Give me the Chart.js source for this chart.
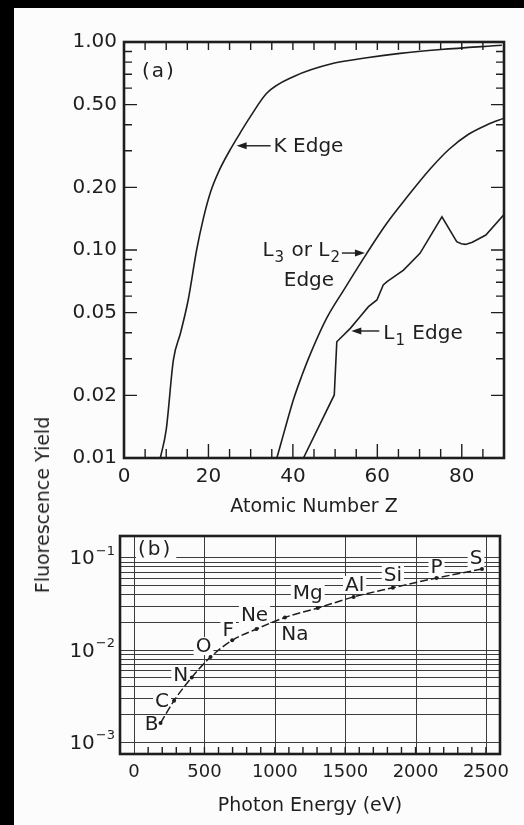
<!DOCTYPE html>
<html>
<head>
<meta charset="utf-8">
<script src="https://cdn.jsdelivr.net/npm/chart.js@4.4.1/dist/chart.umd.min.js"></script>
<style>
  html, body { margin: 0; padding: 0; background: #000; width: 524px; height: 825px; overflow: hidden; }
  #paper { position: absolute; left: 14px; top: 8px; width: 510px; height: 817px; background: #fcfcfc; }
  canvas { position: absolute; left: 0; }
  #ytitle {
    position: absolute; left: 42px; top: 505px;
    transform: translate(-50%, -50%) rotate(-90deg);
    font: 19px "DejaVu Sans", Arial, sans-serif; color: #1e1e1e; white-space: nowrap;
  }
</style>
</head>
<body>
<div id="paper"></div>
<canvas id="chartA" width="524" height="525" style="top:0"></canvas>
<canvas id="chartB" width="524" height="305" style="top:520px"></canvas>
<div id="ytitle">Fluorescence Yield</div>
<script>
// panel (a): yield vs atomic number
var zTicks = [0, 20, 40, 60, 80];
var yieldTicksA = [0.01, 0.02, 0.05, 0.10, 0.20, 0.50, 1.00];
var minorYA = [0.01, 0.02, 0.03, 0.04, 0.05, 0.06, 0.07, 0.08, 0.09,
               0.1, 0.2, 0.3, 0.4, 0.5, 0.6, 0.7, 0.8, 0.9, 1.0];

var kZ     = [8.6, 10, 11.7, 13.4, 15.2, 17.2, 18.8, 20.5, 22.5, 25, 27.5, 30, 33.8, 40.1, 49.6, 57.5, 65.4, 75, 89.5];
var kYield = [0.010, 0.0137, 0.0296, 0.040, 0.0575, 0.100, 0.142, 0.190, 0.240, 0.300, 0.365, 0.440, 0.567, 0.681, 0.790, 0.840, 0.882, 0.920, 0.965];

var l3Z     = [36.2, 38, 40.1, 42, 44.1, 48, 52, 57.5, 62.2, 66.5, 72.5, 77, 81.6, 86, 90];
var l3Yield = [0.010, 0.0135, 0.019, 0.0245, 0.0315, 0.047, 0.064, 0.0964, 0.134, 0.174, 0.245, 0.305, 0.360, 0.400, 0.430];

var l1Z     = [42.5, 49.8, 50.4, 53.6, 55.9, 57.9, 59.9, 61.4, 62.3, 66.2, 70.1, 75.3, 78.8, 79.9, 80.9, 82.5, 85.7, 90];
var l1Yield = [0.010, 0.0201, 0.0362, 0.042, 0.0478, 0.0534, 0.0575, 0.0679, 0.0704, 0.0801, 0.0964, 0.1445, 0.1096, 0.1072, 0.1064, 0.109, 0.118, 0.148];

// panel (b): K yield of light elements vs photon energy
var elements     = ['B', 'C', 'N', 'O', 'F', 'Ne', 'Na', 'Mg', 'Al', 'Si', 'P', 'S'];
var edgeEnergy   = [188, 284, 410, 543, 697, 870, 1072, 1305, 1560, 1839, 2149, 2472];
var kYieldLight  = [0.0016, 0.0028, 0.0050, 0.0083, 0.0126, 0.0167, 0.0223, 0.0282, 0.0372, 0.0468, 0.0596, 0.0746];
var energyTicks  = [0, 500, 1000, 1500, 2000, 2500];
var decadeTicks  = [0.001, 0.01, 0.1];
var decadeExp    = ['\u22123', '\u22122', '\u22121'];
var minorYB = [0.001, 0.002, 0.003, 0.004, 0.005, 0.006, 0.007, 0.008, 0.009,
               0.01, 0.02, 0.03, 0.04, 0.05, 0.06, 0.07, 0.08, 0.09, 0.1];

// label placement (pixel offsets from each point)
var labelOffsets = [[-9, 1], [-12, 0], [-11, -3], [-7, -11], [-4, -11], [-2, -14],
                    [10, 16], [-10, -15], [1, -12], [0, -13], [0, -11], [-6, -11]];

var INK = '#1e1e1e';
var PAPER = '#fcfcfc';
var FONT = '"DejaVu Sans", "Liberation Sans", Arial, sans-serif';

function pts(xs, ys) {
    return xs.map(function (v, i) { return { x: v, y: ys[i] }; });
}

function arrow(ctx, x1, y1, x2, y2) {
    // tip at (x2, y2)
    var dir = Math.sign(x2 - x1);
    ctx.beginPath();
    ctx.moveTo(x1, y1);
    ctx.lineTo(x2 - dir * 6, y2);
    ctx.stroke();
    ctx.beginPath();
    ctx.moveTo(x2, y2);
    ctx.lineTo(x2 - dir * 10, y2 - 3.5);
    ctx.lineTo(x2 - dir * 10, y2 + 3.5);
    ctx.closePath();
    ctx.fill();
}

// draws text with subscripts, parts = [[text, isSub], ...]
function richText(ctx, parts, x, y, align) {
    var big = '20px ' + FONT, small = '15px ' + FONT;
    var total = 0;
    parts.forEach(function (p) {
        ctx.font = p[1] ? small : big;
        total += ctx.measureText(p[0]).width + (p[1] ? 2 : 0);
    });
    var cx = align === 'right' ? x - total : x;
    ctx.textAlign = 'left';
    ctx.textBaseline = 'middle';
    parts.forEach(function (p) {
        ctx.font = p[1] ? small : big;
        ctx.fillText(p[0], cx + (p[1] ? 1 : 0), p[1] ? y + 7 : y);
        cx += ctx.measureText(p[0]).width + (p[1] ? 2 : 0);
    });
}

var frameA = {
    id: 'frameA',
    afterDraw: function (chart) {
        var ctx = chart.ctx, a = chart.chartArea;
        var x = chart.scales.x, y = chart.scales.y;
        ctx.save();
        ctx.strokeStyle = INK;
        ctx.fillStyle = INK;
        ctx.lineWidth = 1.4;
        ctx.beginPath();
        minorYA.forEach(function (v) {
            var py = y.getPixelForValue(v);
            var len = yieldTicksA.indexOf(v) >= 0 ? 13 : 8;
            ctx.moveTo(a.left, py); ctx.lineTo(a.left + len, py);
            ctx.moveTo(a.right, py); ctx.lineTo(a.right - len, py);
        });
        for (var z = 5; z < 90; z += 5) {
            var px = x.getPixelForValue(z);
            ctx.moveTo(px, a.top); ctx.lineTo(px, a.top + 8);
            ctx.moveTo(px, a.bottom); ctx.lineTo(px, a.bottom - (z % 20 === 0 ? 14 : 9));
        }
        ctx.stroke();
        ctx.lineWidth = 2.6;
        ctx.strokeRect(a.left, a.top, a.right - a.left, a.bottom - a.top);

        // panel tag
        ctx.font = '20px ' + FONT;
        ctx.textAlign = 'left';
        ctx.textBaseline = 'middle';
        ctx.letterSpacing = '2px';
        ctx.fillText('(a)', a.left + 18, a.top + 30);
        ctx.letterSpacing = '0px';

        // K edge
        ctx.lineWidth = 1.4;
        var kx = x.getPixelForValue(26.2), ky = y.getPixelForValue(0.317);
        arrow(ctx, kx + 36, ky, kx + 2, ky);
        ctx.font = '20px ' + FONT;
        ctx.fillText('K Edge', kx + 39, ky + 1);

        // L3 / L2 edge
        var lx = x.getPixelForValue(57.3), ly = y.getPixelForValue(0.0967);
        arrow(ctx, lx - 24, ly, lx - 1, ly);
        richText(ctx, [['L', false], ['3', true], [' or L', false], ['2', true]], lx - 25, ly - 2, 'right');
        ctx.font = '20px ' + FONT;
        ctx.textAlign = 'center';
        ctx.fillText('Edge', lx - 57, ly + 28);

        // L1 edge
        var mx = x.getPixelForValue(53.6), my = y.getPixelForValue(0.0408);
        arrow(ctx, mx + 29, my, mx + 1, my);
        richText(ctx, [['L', false], ['1', true], [' Edge', false]], mx + 33, my + 3, 'left');
        ctx.restore();
    }
};

var gridB = {
    id: 'gridB',
    beforeDatasetsDraw: function (chart) {
        var ctx = chart.ctx, a = chart.chartArea;
        var x = chart.scales.x, y = chart.scales.y;
        ctx.save();
        ctx.strokeStyle = '#3c3c3c';
        ctx.lineWidth = 1;
        ctx.beginPath();
        minorYB.forEach(function (v) {
            var py = Math.round(y.getPixelForValue(v)) + 0.5;
            ctx.moveTo(a.left, py); ctx.lineTo(a.right, py);
        });
        energyTicks.forEach(function (e) {
            var px = Math.round(x.getPixelForValue(e)) + 0.5;
            ctx.moveTo(px, a.top); ctx.lineTo(px, a.bottom);
        });
        ctx.stroke();
        ctx.strokeStyle = INK;
        ctx.lineWidth = 1.4;
        ctx.beginPath();
        for (var e = 100; e < 2600; e += 100) {
            var px = x.getPixelForValue(e);
            ctx.moveTo(px, a.bottom); ctx.lineTo(px, a.bottom - 7);
        }
        ctx.stroke();

        // element labels on a paper-coloured patch
        ctx.font = '20px ' + FONT;
        ctx.textAlign = 'center';
        ctx.textBaseline = 'middle';
        elements.forEach(function (el, i) {
            var px = x.getPixelForValue(edgeEnergy[i]) + labelOffsets[i][0];
            var py = y.getPixelForValue(kYieldLight[i]) + labelOffsets[i][1];
            var w = ctx.measureText(el).width;
            ctx.fillStyle = PAPER;
            ctx.fillRect(px - w / 2 - 2, py - 9, w + 4, 18);
            ctx.fillStyle = INK;
            ctx.fillText(el, px, py + 1);
        });

        // panel tag
        ctx.textAlign = 'left';
        ctx.letterSpacing = '2px';
        var tw = ctx.measureText('(b)').width;
        ctx.fillStyle = PAPER;
        ctx.fillRect(a.left + 16, a.top + 3, tw + 6, 22);
        ctx.fillStyle = INK;
        ctx.fillText('(b)', a.left + 18, a.top + 14);
        ctx.letterSpacing = '0px';
        ctx.restore();
    },
    afterDraw: function (chart) {
        var ctx = chart.ctx, a = chart.chartArea, y = chart.scales.y;
        ctx.save();
        ctx.strokeStyle = INK;
        ctx.fillStyle = INK;
        ctx.lineWidth = 2.6;
        ctx.strokeRect(a.left, a.top, a.right - a.left, a.bottom - a.top);

        ctx.textAlign = 'right';
        ctx.textBaseline = 'middle';
        decadeTicks.forEach(function (v, i) {
            var py = y.getPixelForValue(v);
            var right = a.left - 5;
            ctx.font = '13px ' + FONT;
            var sw = ctx.measureText(decadeExp[i]).width;
            ctx.fillText(decadeExp[i], right, py - 6);
            ctx.font = '20px ' + FONT;
            ctx.fillText('10', right - sw - 1, py + 2);
        });
        ctx.restore();
    }
};

var lineStyle = {
    borderColor: INK,
    borderWidth: 1.6,
    pointRadius: 0,
    fill: false
};

function plain(v) { return String(v); }

new Chart(document.getElementById('chartA').getContext('2d'), {
    type: 'line',
    data: {
        datasets: [
            Object.assign({ label: 'K Edge', data: pts(kZ, kYield), cubicInterpolationMode: 'monotone' }, lineStyle),
            Object.assign({ label: 'L3 or L2 Edge', data: pts(l3Z, l3Yield), cubicInterpolationMode: 'monotone' }, lineStyle),
            Object.assign({ label: 'L1 Edge', data: pts(l1Z, l1Yield), tension: 0 }, lineStyle)
        ]
    },
    options: {
        responsive: false,
        devicePixelRatio: 1,
        animation: false,
        layout: { padding: { left: 0, right: 20, top: 42, bottom: 0 } },
        plugins: { legend: { display: false }, tooltip: { enabled: false } },
        scales: {
            x: {
                type: 'linear',
                min: 0,
                max: 90,
                afterBuildTicks: function (s) { s.ticks = zTicks.map(function (v) { return { value: v }; }); },
                afterFit: function (s) { s.height = 67; },
                grid: { display: false, drawTicks: false },
                border: { display: false },
                ticks: { color: INK, font: { size: 20, family: FONT }, padding: 7, maxRotation: 0, callback: plain },
                title: { display: true, text: 'Atomic Number Z', color: INK, font: { size: 19, family: FONT }, padding: { top: 0, bottom: 7 } }
            },
            y: {
                type: 'logarithmic',
                min: 0.01,
                max: 1,
                afterBuildTicks: function (s) { s.ticks = yieldTicksA.map(function (v) { return { value: v }; }); },
                afterFit: function (s) { s.width = 124; },
                grid: { display: false, drawTicks: false },
                border: { display: false },
                ticks: {
                    color: INK, font: { size: 20, family: FONT }, padding: 7,
                    callback: function (v) { return Number(v).toFixed(2); }
                }
            }
        }
    },
    plugins: [frameA]
});

new Chart(document.getElementById('chartB').getContext('2d'), {
    type: 'line',
    data: {
        datasets: [{
            label: 'K fluorescence yield',
            data: pts(edgeEnergy, kYieldLight),
            borderColor: INK,
            borderWidth: 1.5,
            borderDash: [8, 3],
            pointRadius: 2,
            pointBackgroundColor: INK,
            pointBorderWidth: 0,
            cubicInterpolationMode: 'monotone',
            fill: false
        }]
    },
    options: {
        responsive: false,
        devicePixelRatio: 1,
        animation: false,
        layout: { padding: { left: 0, right: 24, top: 16, bottom: 0 } },
        plugins: { legend: { display: false }, tooltip: { enabled: false } },
        scales: {
            x: {
                type: 'linear',
                min: -100,
                max: 2600,
                afterBuildTicks: function (s) { s.ticks = energyTicks.map(function (v) { return { value: v }; }); },
                afterFit: function (s) { s.height = 71; },
                grid: { display: false, drawTicks: false },
                border: { display: false },
                ticks: { color: INK, font: { size: 18, family: FONT }, padding: 8, maxRotation: 0, callback: plain },
                title: { display: true, text: 'Photon Energy (eV)', color: INK, font: { size: 19, family: FONT }, padding: { top: 0, bottom: 8 } }
            },
            y: {
                type: 'logarithmic',
                min: 0.00074,
                max: 0.17,
                afterFit: function (s) { s.width = 120; },
                grid: { display: false, drawTicks: false },
                border: { display: false },
                ticks: { display: false }
            }
        }
    },
    plugins: [gridB]
});
</script>
</body>
</html>
